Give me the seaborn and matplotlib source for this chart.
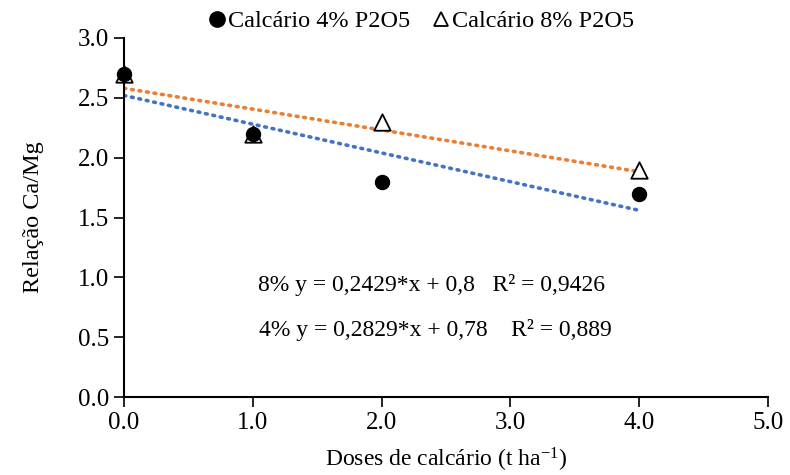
import numpy as np
import pandas as pd
import matplotlib
matplotlib.use("Agg")
import matplotlib.pyplot as plt
import seaborn as sns

doses = [0, 1, 2, 4]
ca_mg_4 = [2.7, 2.2, 1.8, 1.7]
ca_mg_8 = [2.7, 2.2, 2.3, 1.9]
series_names = ["Calcário 4% P2O5", "Calcário 8% P2O5"]
eq_8 = "8% y = 0,2429*x + 0,8   R² = 0,9426"
eq_4 = "4% y = 0,2829*x + 0,78    R² = 0,889"

sns.set_style("ticks")
plt.rcParams["font.family"] = ["Liberation Serif", "DejaVu Serif"]
plt.rcParams["mathtext.default"] = "regular"
plt.rcParams["text.color"] = "black"
plt.rcParams["axes.labelcolor"] = "black"

df = pd.DataFrame({
    "dose": doses * 2,
    "valor": ca_mg_4 + ca_mg_8,
    "serie": [series_names[0]] * 4 + [series_names[1]] * 4,
})

fig = plt.figure(figsize=(7.9, 4.75), dpi=100)
ax = fig.add_axes([0.157, 0.164, 0.815, 0.756])

# trend lines
sns.regplot(x=doses, y=ca_mg_4, ax=ax, scatter=False, ci=None, truncate=True,
            line_kws=dict(color="#4472C4", linestyle=(0, (0.5, 1.6)), lw=2.6,
                          dash_capstyle="round"))
sns.regplot(x=doses, y=ca_mg_8, ax=ax, scatter=False, ci=None, truncate=True,
            line_kws=dict(color="#ED7D31", linestyle=(0, (0.5, 1.6)), lw=2.6,
                          dash_capstyle="round"))

sns.scatterplot(data=df[df.serie == series_names[1]], x="dose", y="valor", ax=ax,
                marker="^", s=140, facecolor="white", edgecolor="black",
                linewidth=1.3, zorder=3)
sns.scatterplot(data=df[df.serie == series_names[0]], x="dose", y="valor", ax=ax,
                marker="o", s=105, color="black", edgecolor="black", zorder=4)

ax.set_xlim(0, 5)
ax.set_ylim(0, 3)
ax.set_xticks(np.arange(0, 5.01, 1.0))
ax.set_yticks(np.arange(0, 3.01, 0.5))
ax.set_xticklabels([f"{v:.1f}" for v in np.arange(0, 5.01, 1.0)])
ax.set_yticklabels([f"{v:.1f}" for v in np.arange(0, 3.01, 0.5)])
ax.tick_params(labelsize=18, length=7, width=1.2, color="black", labelcolor="black", pad=4)
for s in ["left", "bottom"]:
    ax.spines[s].set_linewidth(1.5)
    ax.spines[s].set_color("black")
sns.despine(ax=ax)
ax.set_xlabel("Doses de calcário (t ha$^{-1}$)", fontsize=17, labelpad=8)
ax.set_ylabel("Relação Ca/Mg", fontsize=17.5, labelpad=24)
for c in ax.collections:
    c.set_clip_on(False)

ax.text(1.04, 0.94, eq_8, fontsize=17, va="center")
ax.text(1.05, 0.56, eq_4, fontsize=17, va="center")

h1 = plt.Line2D([], [], marker="o", color="black", ls="", markersize=11)
h2 = plt.Line2D([], [], marker="^", markerfacecolor="white", markeredgecolor="black",
                ls="", markersize=10, markeredgewidth=1.3)
fig.legend([h1, h2], series_names, loc="upper center", bbox_to_anchor=(0.532, 1.025),
           ncol=2, frameon=False, fontsize=17.5, handletextpad=0.0,
           columnspacing=0.8, handlelength=0.9)

fig.savefig("out.png", dpi=100)
